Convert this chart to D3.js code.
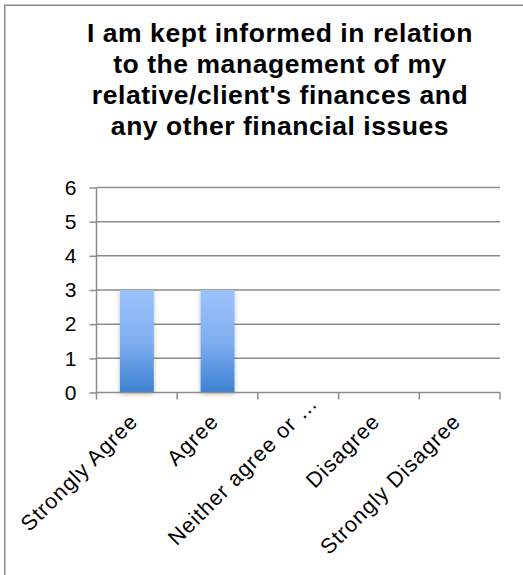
<!DOCTYPE html>
<html>
<head>
<meta charset="utf-8">
<script src="https://cdn.jsdelivr.net/npm/d3@7"></script>
<style>
  html, body { margin: 0; padding: 0; background: #fff; }
  svg { display: block; }
  text { font-family: "Liberation Sans", Arial, Helvetica, sans-serif; fill: #000; }
</style>
</head>
<body>
<svg id="chart" width="523" height="575"></svg>
<script>
// Survey responses: number of answers per category
const categories = ["Strongly Agree", "Agree", "Neither agree or …", "Disagree", "Strongly Disagree"];
const counts = [3, 3, 0, 0, 0];
const yTicks = [0, 1, 2, 3, 4, 5, 6];
const titleLines = [
  "I am kept informed in relation",
  "to the management of my",
  "relative/client's finances and",
  "any other financial issues"
];

const svg = d3.select("#chart");
const W = 523, H = 575;
const margin = { left: 96.5, right: 23, top: 187.5, bottom: 182.5 };
const plotW = W - margin.left - margin.right;
const plotH = H - margin.top - margin.bottom;

// outer frame (right and bottom edges run off the canvas)
svg.append("rect")
  .attr("x", 4.75).attr("y", 5.25)
  .attr("width", W + 20).attr("height", H + 20)
  .attr("fill", "#fff")
  .attr("stroke", "#8a8a8a")
  .attr("stroke-width", 1.5);

// title
const title = svg.append("text")
  .attr("text-anchor", "middle")
  .style("font-weight", "bold")
  .style("font-size", "26.5px")
  .style("letter-spacing", "0.55px");
titleLines.forEach((line, i) => {
  title.append("tspan")
    .attr("x", 280)
    .attr("y", 42 + i * 31)
    .text(line);
});

const defs = svg.append("defs");
const grad = defs.append("linearGradient")
  .attr("id", "barGrad")
  .attr("x1", 0).attr("y1", 0).attr("x2", 0).attr("y2", 1);
grad.append("stop").attr("offset", "0%").attr("stop-color", "#9dc3fd");
grad.append("stop").attr("offset", "50%").attr("stop-color", "#7eaff0");
grad.append("stop").attr("offset", "100%").attr("stop-color", "#3c81d2");

const shadow = defs.append("filter")
  .attr("id", "barShadow")
  .attr("x", "-30%").attr("y", "-10%").attr("width", "160%").attr("height", "130%");
shadow.append("feDropShadow")
  .attr("dx", 0).attr("dy", 1.5).attr("stdDeviation", 2)
  .attr("flood-color", "#000").attr("flood-opacity", 0.28);

const g = svg.append("g").attr("transform", `translate(${margin.left},${margin.top})`);

const x = d3.scaleBand().domain(categories).range([0, plotW]).padding(0);
const y = d3.scaleLinear().domain([0, 6]).range([plotH, 0]);

// horizontal gridlines
g.append("g")
  .selectAll("line")
  .data(yTicks.filter(t => t > 0))
  .join("line")
  .attr("x1", 0).attr("x2", plotW)
  .attr("y1", d => y(d)).attr("y2", d => y(d))
  .attr("stroke", "#8c8c8c")
  .attr("stroke-width", 1.5);

// bars
const barW = x.bandwidth() * 0.42;
g.append("g")
  .selectAll("rect")
  .data(categories.map((c, i) => ({ c, v: counts[i] })).filter(d => d.v > 0))
  .join("rect")
  .attr("x", d => x(d.c) + (x.bandwidth() - barW) / 2)
  .attr("y", d => y(d.v))
  .attr("width", barW)
  .attr("height", d => y(0) - y(d.v))
  .attr("fill", "url(#barGrad)")
  .attr("filter", "url(#barShadow)");

// y axis
const yAxis = g.append("g")
  .call(d3.axisLeft(y).tickValues(yTicks).tickSize(7).tickPadding(13).tickFormat(d3.format("d")));
yAxis.select(".domain").attr("stroke", "#8c8c8c").attr("stroke-width", 1.5)
  .attr("d", `M0,${y(6)}V${y(0)}`);
yAxis.selectAll(".tick line").attr("stroke", "#8c8c8c").attr("stroke-width", 1.5);
yAxis.selectAll(".tick text")
  .style("font-size", "21px")
  .style("font-family", "'Liberation Sans', Arial, sans-serif")
  .attr("fill", "#000");

// x axis with tick marks at category boundaries
const xAxis = g.append("g").attr("transform", `translate(0,${plotH})`);
xAxis.append("line")
  .attr("x1", 0).attr("x2", plotW)
  .attr("stroke", "#8c8c8c").attr("stroke-width", 1.5);
const boundaries = categories.map(c => x(c)).concat([plotW]);
xAxis.selectAll("line.tick")
  .data(boundaries)
  .join("line")
  .attr("class", "tick")
  .attr("x1", d => d).attr("x2", d => d)
  .attr("y1", 0).attr("y2", 7)
  .attr("stroke", "#8c8c8c").attr("stroke-width", 1.5);

// rotated category labels; a truncated label runs a little past its tick
xAxis.selectAll("text.cat")
  .data(categories)
  .join("text")
  .attr("class", "cat")
  .attr("text-anchor", "end")
  .style("font-size", "21.5px")
  .style("letter-spacing", "1px")
  .attr("transform", d => `translate(${x(d) + x.bandwidth() / 2 - 3},${25}) rotate(-45)`)
  .attr("dy", "0.35em")
  .attr("dx", d => d.endsWith("…") ? "1.2em" : 0)
  .text(d => d);
</script>
</body>
</html>
